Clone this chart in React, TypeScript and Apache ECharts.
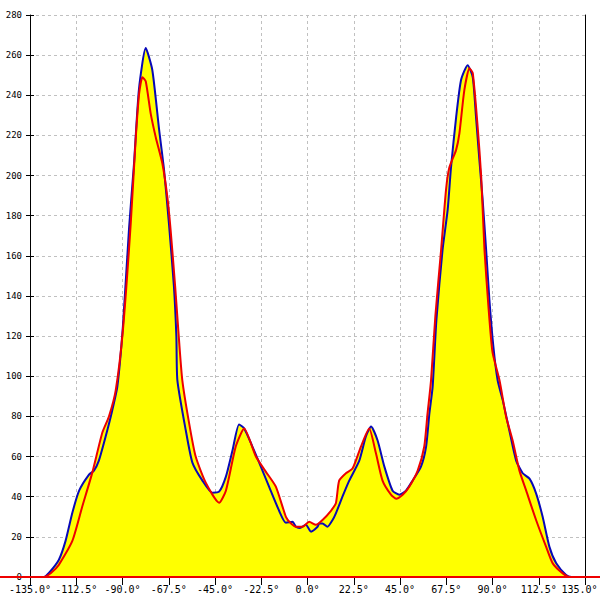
import React, { useEffect, useRef } from "react";
import * as echarts from "echarts";

// Angle (degrees) / value pairs
const blueAngles = [-135, -128.2, -125.8, -121, -117.7, -114.4, -111.1, -106.3, -103.9, -101.5, -98.2, -95, -92.5, -89.8, -86.8, -84.4, -82, -78.7, -75.5, -72.2, -69.8, -67.4, -65, -63.8, -63.3, -59.2, -56, -51.1, -46.3, -43, -39.7, -36.5, -33.3, -30.8, -26.8, -23.5, -18.7, -13.8, -10.5, -7.3, -5.6, -4, -0.8, 1.7, 4.9, 5.7, 7.3, 9.7, 12.2, 13.8, 17, 20.3, 25.2, 28.4, 30.9, 34.1, 37.4, 41.4, 44.7, 47.9, 51.1, 55.2, 57.7, 59.3, 60.9, 62.7, 65.7, 68.2, 69.8, 72.3, 74.7, 77.9, 80.4, 82, 83.6, 85.2, 86.9, 88.5, 90.4, 92.5, 95, 98.2, 101.5, 104.7, 108, 111.2, 114.4, 117.7, 121, 125.8, 128.4, 135];
const blueValues = [0, 0, 2, 8.5, 18, 32, 43, 51, 53, 58, 70, 83, 95, 125, 174, 206, 243, 263.5, 252.6, 223, 203, 176, 145, 120, 98, 73, 57, 48, 42, 42.5, 50, 63, 76, 74, 65, 57, 45, 33, 27, 27.5, 25, 24.4, 26, 22.6, 25, 26.7, 26.7, 25, 28.4, 31.7, 40, 48, 58, 70, 75, 68, 55, 43, 41, 43, 48, 55, 65, 81.5, 95, 128, 163, 183, 204, 229, 247.6, 255, 249, 229, 208, 188, 163, 138, 115, 98, 88, 73, 58, 51.7, 49, 41.7, 30, 15, 6.8, 1, 0, 0];

const redAngles = [-135, -128.2, -124.8, -121, -114.4, -109.6, -104.7, -99.8, -96.6, -93.3, -89.8, -86, -83.6, -81.9, -80.3, -78.7, -76.3, -73.8, -70.6, -68.2, -66.6, -64.4, -62.5, -60.9, -57.6, -54.4, -49.5, -43, -39.7, -34.9, -30.8, -25.1, -20.3, -15.4, -10.5, -8.1, -5.6, -2.4, 0.8, 4.1, 7.3, 11.4, 13.8, 15.4, 18.7, 21.9, 26, 30, 33.3, 36.5, 40.6, 43.1, 46.3, 49.5, 53.6, 56.8, 58.4, 60.1, 62.2, 65, 67.4, 69, 72.3, 73.9, 76.3, 78.8, 80.4, 82.8, 84.5, 86.1, 88, 90, 93.4, 96.6, 99.8, 103.1, 106.4, 111.2, 116.1, 119.3, 124.2, 127.5, 135];
const redValues = [0, 0, 2, 6, 18, 35, 52, 72, 80, 93, 123, 176, 218, 241, 249, 247, 231, 219, 206, 189.5, 173, 145, 118, 98, 76.7, 60, 47, 37, 43, 65, 74, 60, 52.5, 45, 30, 26.7, 25, 25, 27.5, 26, 28.4, 33, 36.7, 48, 51.7, 54, 65, 74, 61.6, 48, 41, 39, 41, 45, 53, 65, 81.5, 98, 130, 163, 193, 204, 212.8, 221, 242.6, 253.5, 251, 224, 199.5, 163, 135, 112, 98, 80, 68, 53, 43, 28.4, 15, 6.8, 1.8, 0, 0];

const xTickMin = -135;
const xTickMax = 135;
const xTickStep = 22.5;
const yTickMin = 0;
const yTickMax = 280;
const yTickStep = 20;

const pairs = (xs: number[], ys: number[]) => xs.map((x, i) => [x, ys[i]]);

export default function App() {
  const ref = useRef<HTMLDivElement>(null);
  useEffect(() => {
    if (!ref.current) return;
    const chart = echarts.init(ref.current, null, { renderer: "svg" });
    const blue = pairs(blueAngles, blueValues);
    const red = pairs(redAngles, redValues);
    const gridTop = 15;
    const gridBottom = 23;
    const font = "DejaVu Sans Mono";
    chart.setOption({
      animation: false,
      backgroundColor: "#ffffff",
      grid: { left: 30, right: 15, top: gridTop, bottom: gridBottom, containLabel: false, outerBoundsMode: "none" },
      xAxis: {
        type: "value",
        min: xTickMin,
        max: xTickMax,
        interval: xTickStep,
        axisLine: { show: true, onZero: false, lineStyle: { color: "#000", width: 1 } },
        axisTick: { show: true, length: 8, lineStyle: { color: "#000" } },
        axisLabel: {
          margin: 7,
          color: "#000",
          fontFamily: font,
          fontSize: 10,
          formatter: (v: number) =>
            v === xTickMax ? "{last|" + v.toFixed(1) + "°}" : v.toFixed(1) + "°",
          rich: {
            last: { fontFamily: font, fontSize: 10, color: "#000", padding: [0, 11, 0, 0] },
          },
          showMaxLabel: true,
          showMinLabel: true,
        },
        splitLine: { show: true, lineStyle: { color: "#c0c0c0", type: [3, 3], width: 1 } },
      },
      yAxis: [
        {
          type: "value",
          min: yTickMin,
          max: yTickMax,
          interval: yTickStep,
          position: "left",
          axisLine: { show: true, onZero: false, lineStyle: { color: "#000", width: 1 } },
          axisTick: { show: true, length: 4, lineStyle: { color: "#000" } },
          axisLabel: { margin: 8, color: "#000", fontFamily: font, fontSize: 9 },
          splitLine: { show: true, lineStyle: { color: "#c0c0c0", type: [3, 3], width: 1 } },
        },
        {
          type: "value",
          min: yTickMin,
          max: yTickMax,
          interval: yTickStep,
          position: "left",
          axisLine: { show: false, onZero: false },
          axisTick: { show: true, inside: true, length: 4, lineStyle: { color: "#000" } },
          axisLabel: { show: false },
          splitLine: { show: false },
        },
        {
          type: "value",
          min: yTickMin,
          max: yTickMax,
          interval: yTickStep,
          position: "right",
          axisLine: { show: true, onZero: false, lineStyle: { color: "#000", width: 1 } },
          axisTick: { show: false },
          axisLabel: { show: false },
          splitLine: { show: false },
        },
      ],
      graphic: [
        {
          type: "line",
          z: 100,
          shape: { x1: 0, y1: 600 - gridBottom, x2: 600, y2: 600 - gridBottom },
          style: { stroke: "#ee0000", lineWidth: 2 },
        },
      ],
      series: [
        {
          type: "line",
          data: blue,
          showSymbol: false,
          smooth: 0.2,
          lineStyle: { width: 0, opacity: 0 },
          areaStyle: { color: "#ffff00", opacity: 1 },
          z: 1,
        },
        {
          type: "line",
          data: red,
          showSymbol: false,
          smooth: 0.2,
          lineStyle: { width: 0, opacity: 0 },
          areaStyle: { color: "#ffff00", opacity: 1 },
          z: 1,
        },
        {
          type: "line",
          data: blue,
          showSymbol: false,
          smooth: 0.2,
          lineStyle: { width: 2, color: "#0808b8" },
          z: 3,
        },
        {
          type: "line",
          data: red,
          showSymbol: false,
          smooth: 0.2,
          lineStyle: { width: 2, color: "#ee0000" },
          z: 4,
        },
      ],
    });
    return () => chart.dispose();
  }, []);
  return <div ref={ref} style={{ width: 600, height: 600, position: "fixed", left: 0, top: 0 }} />;
}
